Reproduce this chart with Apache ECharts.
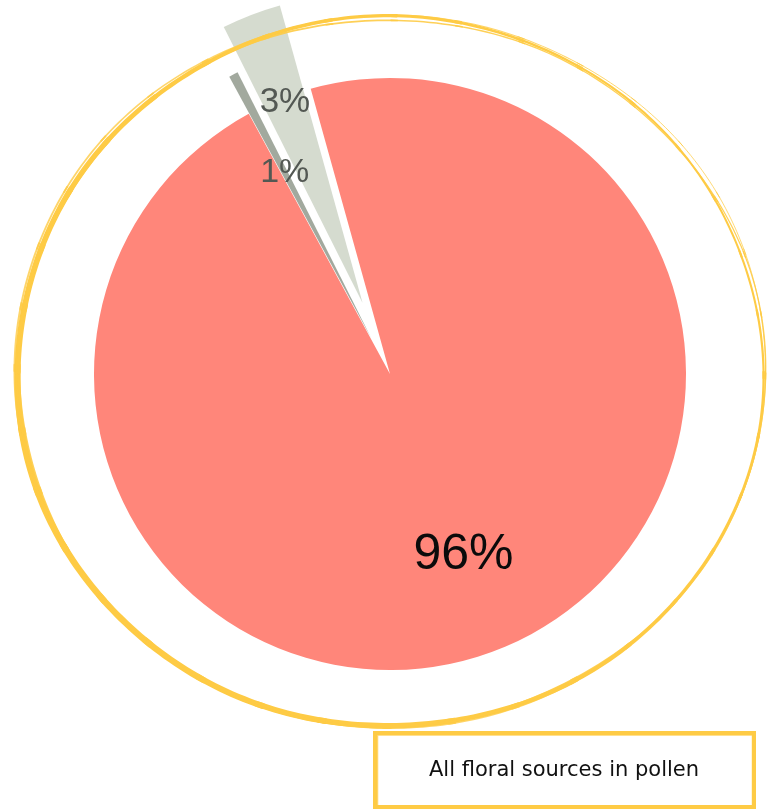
<!DOCTYPE html>
<html>
<head>
<meta charset="utf-8">
<script src="https://cdn.jsdelivr.net/npm/echarts@6/dist/echarts.min.js"></script>
<style>
  html, body { margin: 0; padding: 0; background: #ffffff; }
  #chart { width: 769px; height: 811px; }
</style>
</head>
<body>
<div id="chart"></div>
<script>
// ---- data ----
const categories = ['Main floral source', 'Second floral source', 'Third floral source'];
const shares = [96.4, 3.1, 0.5];
const legendTitle = 'All floral sources in pollen';

// ---- styles ----
const palette = ['#FF867A', '#D5DBCF', '#A2A99E'];
const labelColors = ['#0b0b0b', '#535853', '#535853'];
const labelSizes = [50, 35, 34];
const YELLOW = '#FECB45';
const CENTER = [390, 374];
const START = 118.5;

const total = shares.reduce((a, b) => a + b, 0);
function midAngle(i) {
  let cum = 0;
  for (let k = 0; k < i; k++) cum += shares[k];
  return (START + (cum + shares[i] / 2) / total * 360) * Math.PI / 180;
}

// one series per visible slice (radius, explode offset, label radius factor)
const sliceSetup = [
  { radius: 296, offset: 0, labelFactor: 0.652 },
  { radius: 309, offset: 76, labelFactor: 0.688 },
  { radius: 298, offset: 40, labelFactor: 0.618 }
];

function pieSeries(vis) {
  const s = sliceSetup[vis];
  return {
    type: 'pie',
    center: CENTER,
    radius: [0, s.radius],
    startAngle: START,
    clockwise: false,
    silent: true,
    animation: false,
    selectedMode: 'multiple',
    selectedOffset: s.offset,
    emphasis: { disabled: true },
    select: { itemStyle: { borderWidth: 0 } },
    itemStyle: { borderWidth: 0 },
    labelLine: { show: false },
    z: 2 + vis,
    data: shares.map((v, i) => ({
      name: categories[i],
      value: v,
      selected: i === vis && s.offset > 0,
      itemStyle: { color: i === vis ? palette[i] : 'rgba(0,0,0,0)', borderWidth: 0 },
      label: {
        show: i === vis,
        position: 'inside',
        formatter: Math.round(v) + '%',
        color: labelColors[i],
        fontSize: labelSizes[i],
        fontFamily: 'Liberation Sans, Arial, sans-serif',
        fontWeight: 'normal'
      }
    })),
    labelLayout: function (p) {
      const a = midAngle(p.dataIndex);
      const shift = (s.labelFactor - 0.5) * s.radius;
      return { dx: Math.cos(a) * shift, dy: -Math.sin(a) * shift };
    }
  };
}

// hand-drawn looking ring (decoration), split in short arcs of varying width
function ringPoint(r, t) {
  const w = r.amp * Math.sin(3 * t + r.ph) + r.amp * 0.5 * Math.sin(7 * t + r.ph * 2);
  return [r.cx + (r.rx + w) * Math.cos(t), r.cy + (r.ry + w) * Math.sin(t)];
}
const ringStrokes = [
  { cx: 390, cy: 372, rx: 373, ry: 355, base: 4.2, vary: 2.2, ph: 0.3, amp: 1.0, op: 1 },
  { cx: 391, cy: 373, rx: 373.5, ry: 353.5, base: 2.0, vary: 0.8, ph: 1.7, amp: 1.4, op: 0.9 },
  { cx: 390, cy: 371, rx: 375.5, ry: 356.5, base: 1.5, vary: 0.6, ph: 2.9, amp: 1.0, op: 0.8 }
];
const graphics = [];
ringStrokes.forEach(r => {
  for (let d = 0; d < 360; d += 10) {
    const pts = [];
    for (let e = d; e <= d + 11; e += 1) pts.push(ringPoint(r, e * Math.PI / 180));
    const mid = (d + 5) * Math.PI / 180;
    const lw = Math.max(0.8, r.base + r.vary * Math.cos(mid - 150 * Math.PI / 180));
    graphics.push({
      type: 'polyline', silent: true, z: 100,
      shape: { points: pts },
      style: { stroke: YELLOW, lineWidth: lw, fill: null, opacity: r.op, lineCap: 'round' }
    });
  }
});
graphics.push(
  { type: 'rect', silent: true, z: 100,
    shape: { x: 375, y: 733, width: 379, height: 74 },
    style: { stroke: YELLOW, lineWidth: 4, fill: null } },
  { type: 'rect', silent: true, z: 100,
    shape: { x: 377.5, y: 735, width: 375, height: 72 },
    style: { stroke: YELLOW, lineWidth: 1.5, fill: null, opacity: 0.8 } },
  { type: 'text', silent: true, z: 101,
    x: 564, y: 771,
    style: { text: legendTitle, fill: '#111111', font: '21px "DejaVu Sans", sans-serif',
             textAlign: 'center', textVerticalAlign: 'middle' } }
);

const chart = echarts.init(document.getElementById('chart'), null, { renderer: 'canvas' });
chart.setOption({
  backgroundColor: '#ffffff',
  animation: false,
  graphic: graphics,
  series: [pieSeries(0), pieSeries(1), pieSeries(2)]
});
</script>
</body>
</html>
